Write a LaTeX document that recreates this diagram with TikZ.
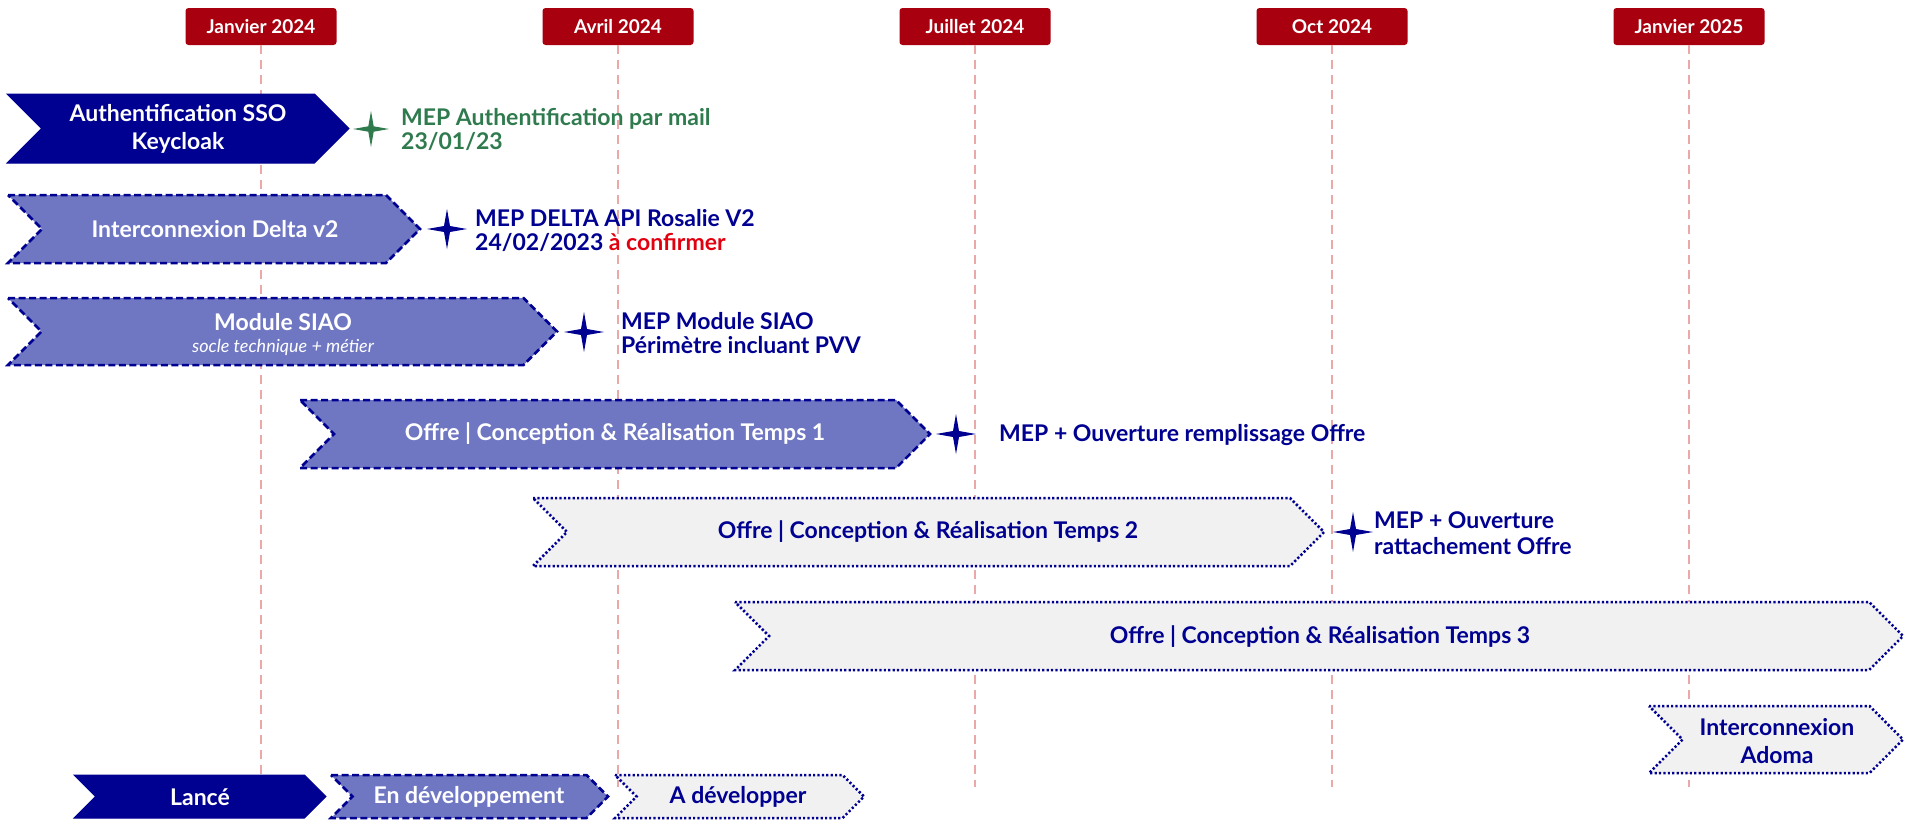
\documentclass[tikz,border=0pt]{standalone}
\usepackage{fontspec}
\setmainfont{Lato}
\definecolor{navy}{HTML}{000091}
\definecolor{midblue}{HTML}{6F77C3}
\definecolor{lightg}{HTML}{F1F1F1}
\definecolor{hdrred}{HTML}{A8000F}
\definecolor{pinkline}{HTML}{EBA8A8}
\definecolor{greenc}{HTML}{2F7B4E}
\definecolor{redc}{HTML}{E1000F}
\newcommand\chev[5]{% style, xl, xr, yt, yb
  \pgfmathsetmacro\hh{(#5-#4)/2}
  \draw[#1] (#2,#4) -- (#3-\hh,#4) -- (#3,#4+\hh) -- (#3-\hh,#5) -- (#2,#5) -- (#2+\hh,#4+\hh) -- cycle;}
\newcommand\mstar[4]{%
  \fill[#4,shift={(#1,#2)}] (#3,0) -- (0.15*#3,0.15*#3) -- (0,#3) -- (-0.15*#3,0.15*#3) -- (-#3,0) -- (-0.15*#3,-0.15*#3) -- (0,-#3) -- (0.15*#3,-0.15*#3) -- cycle;}
\tikzset{
  tl/.style={draw=pinkline, line width=2pt, dash pattern=on 9pt off 6pt},
  hdr/.style={fill=hdrred, rounded corners=3pt, text=white, font=\fontsize{19}{22}\selectfont\bfseries, minimum width=151pt, minimum height=37pt, inner sep=0pt},
  done/.style={fill=navy, draw=navy, line width=1pt},
  dev/.style={fill=midblue, draw=navy, line width=2.5pt, dash pattern=on 7pt off 3.5pt},
  todo/.style={fill=lightg, draw=navy, line width=2.5pt, dash pattern=on 2.2pt off 2.2pt},
  wt/.style={text=white, font=\fontsize{23}{28}\selectfont\bfseries, align=center, inner sep=0pt},
  nt/.style={text=navy, font=\fontsize{23}{28}\selectfont\bfseries, align=center, inner sep=0pt},
  mep/.style={anchor=west, align=left, text=navy, font=\fontsize{23}{24}\selectfont\bfseries, inner sep=0pt},
}
\begin{document}
\begin{tikzpicture}[x=1pt,y=-1pt]
\useasboundingbox (0,0) rectangle (1905,819);
% headers
\node[hdr] (h1) at (261,26.5) {Janvier 2024};
\node[hdr] (h2) at (618,26.5) {Avril 2024};
\node[hdr] (h3) at (975,26.5) {Juillet 2024};
\node[hdr] (h4) at (1332,26.5) {Oct 2024};
\node[hdr] (h5) at (1689,26.5) {Janvier 2025};
\coordinate (e1) at (261,787);
\coordinate (e2) at (618,787);
\coordinate (e3) at (975,787);
\coordinate (e4) at (1332,787);
\coordinate (e5) at (1689,787);
\draw[tl] (h1.south) -- (e1);
\draw[tl] (h2.south) -- (e2);
\draw[tl] (h3.south) -- (e3);
\draw[tl] (h4.south) -- (e4);
\draw[tl] (h5.south) -- (e5);
% row 1
\chev{done}{7}{349}{94}{163}
\node[wt] (r1) at (178,129) {Authentification SSO\\Keycloak};
\mstar{371}{129}{18}{greenc}
\node[mep, text=greenc] (m1) at (401,129) {MEP Authentification par mail\\23/01/23};
% row 2
\chev{dev}{8}{420}{195}{263}
\node[wt] (r2) at (215,229) {Interconnexion Delta v2};
\mstar{447}{229}{20}{navy}
\node[mep] (m2) at (475,230) {MEP DELTA API Rosalie V2\\24/02/2023 \textcolor{redc}{à confirmer}};
% row 3
\chev{dev}{8}{557}{298}{365}
\node[wt] (r3) at (283,322) {Module SIAO};
\node[text=white, font=\fontsize{18}{20}\selectfont\itshape, inner sep=0pt] (r3b) at (283,347) {socle technique + métier};
\mstar{584}{332}{20}{navy}
\node[mep] (m3) at (621,333) {MEP Module SIAO\\Périmètre incluant PVV};
% row 4
\chev{dev}{300}{930}{400}{468}
\node[wt] (r4) at (615,434) {Offre | Conception \& Réalisation Temps 1};
\mstar{956}{434}{20}{navy}
\node[mep] (m4) at (999,435) {MEP + Ouverture remplissage Offre};
% row 5
\chev{todo}{533}{1324}{498}{566}
\node[nt] (r5) at (928,532) {Offre | Conception \& Réalisation Temps 2};
\mstar{1353}{532}{20}{navy}
\node[mep, font=\fontsize{23}{26}\selectfont\bfseries] (m5) at (1374,533) {MEP + Ouverture\\rattachement Offre};
% row 6
\chev{todo}{735}{1903}{602}{670}
\node[nt] (r6) at (1320,637) {Offre | Conception \& Réalisation Temps 3};
% row 7
\chev{todo}{1649}{1903}{706}{773}
\node[nt] (r7) at (1777,741) {Interconnexion\\Adoma};
% legend
\chev{done}{74}{326}{775}{818}
\node[wt] (l1) at (200,797) {Lancé};
\chev{dev}{331}{608}{775}{818}
\node[wt] (l2) at (469,797) {En développement};
\chev{todo}{615}{864}{775}{818}
\node[nt] (l3) at (738,797) {A développer};
\end{tikzpicture}
\end{document}
